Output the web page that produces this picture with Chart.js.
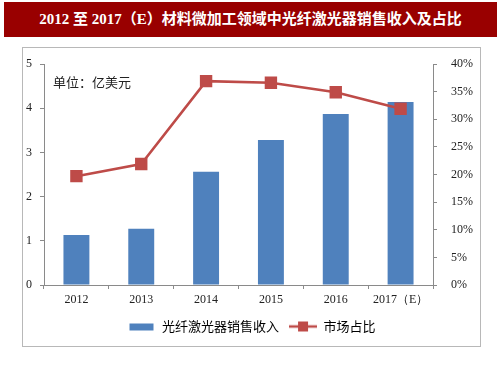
<!DOCTYPE html>
<html>
<head>
<meta charset="utf-8">
<script src="https://cdn.jsdelivr.net/npm/chart.js@4"></script>
<style>
    html, body { margin: 0; padding: 0; background: #fff; }
    #wrap { position: relative; width: 503px; height: 378px; overflow: hidden; }
    #title {
        position: absolute; left: 4px; top: 2px; width: 493px; height: 35px;
        background: #990000; color: #fff;
        font: bold 15px "Liberation Serif", "Noto Sans CJK SC", serif;
        line-height: 35px; text-align: center;
    }
    #box {
        position: absolute; left: 22px; top: 47px; width: 457px; height: 298px;
        border: 1px solid #b8b8b8;
    }
    #unit {
        position: absolute; left: 53px; top: 72px;
        font: 13px "Noto Sans CJK SC", sans-serif; color: #222;
    }
    canvas { position: absolute; left: 0; top: 0; }
</style>
</head>
<body>
<div id="wrap">
    <div id="title">2012 至 2017（E）材料微加工领域中光纤激光器销售收入及占比</div>
    <div id="box"></div>
    <canvas id="chart" width="503" height="378"></canvas>
    <div id="unit">单位：亿美元</div>
</div>
<script>
// chart data
var years = ['2012', '2013', '2014', '2015', '2016', '2017（E）'];
var revenue = [1.13, 1.27, 2.56, 3.28, 3.87, 4.14];      // 亿美元
var marketShare = [19.7, 21.9, 36.9, 36.6, 34.9, 31.9];  // %
var revenueTicks = [0, 1, 2, 3, 4, 5];
var shareTicks = [0, 5, 10, 15, 20, 25, 30, 35, 40];

var barColor = '#4F81BD';
var lineColor = '#BE4B48';
var axisColor = '#8a8a8a';
var serif = '"Liberation Serif", "Times New Roman", serif';

// legend icons
function makeIcon(type) {
    var c = document.createElement('canvas');
    c.width = 28; c.height = 12;
    var g = c.getContext('2d');
    if (type === 'bar') {
        g.fillStyle = barColor;
        g.fillRect(2, 3, 24, 7);
    } else {
        g.strokeStyle = lineColor;
        g.lineWidth = 2.5;
        g.beginPath(); g.moveTo(0, 6); g.lineTo(28, 6); g.stroke();
        g.fillStyle = lineColor;
        g.fillRect(9, 1, 10, 10);
    }
    return c;
}
var icons = [makeIcon('bar'), makeIcon('line')];

var ctx = document.getElementById('chart').getContext('2d');
var chart = new Chart(ctx, {
    data: {
        labels: years,
        datasets: [{
            type: 'bar',
            label: '光纤激光器销售收入',
            data: revenue,
            backgroundColor: barColor,
            yAxisID: 'y',
            categoryPercentage: 1,
            barPercentage: 0.4,
            order: 2
        }, {
            type: 'line',
            label: '市场占比',
            data: marketShare,
            borderColor: lineColor,
            backgroundColor: lineColor,
            borderWidth: 2.5,
            pointStyle: 'rect',
            pointRadius: 7,
            pointHoverRadius: 7,
            tension: 0,
            yAxisID: 'y1',
            order: 1
        }]
    },
    options: {
        responsive: false,
        animation: false,
        layout: {
            padding: { top: 64, left: 0, right: 0, bottom: 35 }
        },
        plugins: {
            tooltip: { enabled: false },
            legend: {
                position: 'bottom',
                labels: {
                    usePointStyle: true,
                    pointStyleWidth: 28,
                    padding: 10,
                    color: '#222',
                    font: { family: '"Noto Sans CJK SC", sans-serif', size: 13 },
                    generateLabels: function(chart) {
                        return chart.data.datasets.map(function(ds, i) {
                            return {
                                text: ds.label,
                                pointStyle: icons[i],
                                fillStyle: 'transparent',
                                strokeStyle: 'transparent',
                                lineWidth: 0,
                                datasetIndex: i
                            };
                        });
                    }
                }
            }
        },
        scales: {
            x: {
                offset: true,
                grid: {
                    display: true,
                    offset: true,
                    drawOnChartArea: false,
                    drawTicks: true,
                    tickLength: 4,
                    color: axisColor
                },
                border: { color: axisColor },
                ticks: {
                    color: '#222',
                    padding: 4,
                    maxRotation: 0,
                    font: { family: serif, size: 12 }
                },
                afterFit: function(s) { s.height = 25; }
            },
            y: {
                position: 'left',
                min: 0,
                max: 5,
                afterBuildTicks: function(s) {
                    s.ticks = revenueTicks.map(function(v) { return { value: v }; });
                },
                grid: {
                    display: true,
                    drawOnChartArea: false,
                    drawTicks: true,
                    tickLength: 4,
                    color: axisColor
                },
                border: { color: axisColor },
                ticks: {
                    color: '#222',
                    padding: 8,
                    font: { family: serif, size: 12 }
                },
                afterFit: function(s) { s.width = 44; }
            },
            y1: {
                position: 'right',
                min: 0,
                max: 40,
                afterBuildTicks: function(s) {
                    s.ticks = shareTicks.map(function(v) { return { value: v }; });
                },
                grid: {
                    display: true,
                    drawOnChartArea: false,
                    drawTicks: true,
                    tickLength: 4,
                    color: axisColor
                },
                border: { color: axisColor },
                ticks: {
                    color: '#222',
                    padding: 14,
                    font: { family: serif, size: 12 },
                    callback: function(value) {
                        return value + '%';
                    }
                },
                afterFit: function(s) { s.width = 70; }
            }
        }
    }
});
</script>
</body>
</html>
